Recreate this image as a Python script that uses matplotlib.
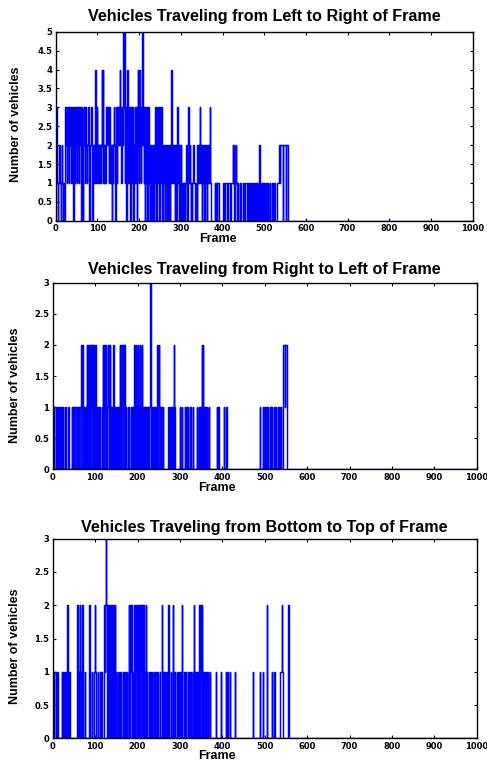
import numpy as np
import matplotlib
matplotlib.use("Agg")
import matplotlib.pyplot as plt

plt.rcParams['font.family'] = ['Liberation Sans', 'DejaVu Sans']

# ---------------- data: (frame where a new count starts, count) ----------------
lr_changes = [
    (0, 3), (2, 2), (3, 1), (5, 0), (6, 1), (9, 2), (10, 1), (12, 0), (13, 1), (15, 2), (16, 1), (18, 0),
    (19, 1), (21, 0), (22, 2), (23, 3), (25, 2), (26, 1), (27, 3), (29, 2), (30, 3), (31, 1), (33, 2),
    (34, 3), (36, 2), (37, 1), (38, 2), (39, 3), (41, 2), (42, 0), (43, 2), (44, 3), (46, 1), (47, 2),
    (48, 3), (50, 2), (51, 1), (52, 3), (53, 2), (55, 3), (56, 1), (57, 2), (58, 3), (60, 2), (61, 0),
    (62, 2), (63, 3), (64, 1), (65, 0), (66, 2), (67, 3), (69, 2), (70, 1), (71, 3), (73, 2), (74, 1),
    (76, 2), (77, 3), (79, 1), (80, 2), (81, 0), (82, 1), (83, 2), (84, 3), (86, 2), (87, 1), (88, 0),
    (90, 2), (91, 1), (92, 2), (94, 1), (95, 4), (96, 2), (97, 1), (98, 3), (99, 2), (101, 1), (102, 2),
    (103, 1), (104, 2), (106, 1), (107, 2), (108, 1), (109, 2), (111, 4), (112, 2), (113, 4), (114, 1),
    (116, 2), (117, 1), (118, 2), (119, 1), (120, 2), (121, 3), (123, 2), (124, 3), (126, 2), (127, 1),
    (128, 2), (129, 3), (130, 2), (131, 1), (132, 2), (134, 0), (135, 1), (136, 2), (137, 1), (138, 2),
    (140, 3), (141, 2), (142, 1), (143, 0), (144, 2), (145, 3), (146, 2), (147, 1), (148, 3), (150, 2),
    (151, 3), (152, 2), (153, 4), (154, 2), (155, 3), (156, 2), (157, 1), (158, 3), (159, 2), (161, 5),
    (163, 3), (164, 5), (165, 2), (166, 1), (167, 3), (168, 1), (169, 0), (170, 3), (171, 2), (172, 4),
    (173, 1), (174, 3), (175, 2), (176, 1), (177, 3), (178, 2), (179, 0), (180, 2), (181, 3), (182, 1),
    (183, 2), (184, 3), (185, 2), (186, 0), (187, 1), (188, 2), (189, 3), (190, 2), (191, 1), (192, 3),
    (193, 2), (194, 0), (195, 2), (196, 3), (197, 4), (198, 2), (199, 1), (200, 4), (201, 3), (202, 2),
    (203, 3), (204, 1), (205, 2), (206, 5), (207, 3), (208, 5), (209, 2), (210, 3), (211, 1), (212, 2),
    (213, 0), (214, 3), (215, 2), (216, 1), (217, 3), (218, 2), (219, 1), (220, 0), (221, 2), (222, 3),
    (223, 1), (224, 2), (225, 0), (226, 1), (227, 2), (228, 1), (229, 0), (230, 2), (231, 1), (232, 0),
    (233, 1), (234, 2), (235, 0), (236, 1), (237, 2), (238, 1), (239, 3), (240, 2), (241, 0), (242, 1),
    (243, 3), (244, 2), (245, 1), (246, 3), (247, 2), (248, 0), (249, 2), (250, 3), (251, 1), (252, 2),
    (253, 3), (254, 1), (255, 2), (256, 0), (257, 1), (258, 2), (259, 1), (261, 0), (262, 1), (263, 2),
    (264, 1), (266, 0), (267, 2), (268, 1), (269, 2), (270, 0), (271, 1), (272, 2), (273, 1), (274, 0),
    (275, 1), (276, 2), (277, 4), (279, 2), (280, 1), (281, 2), (283, 1), (284, 2), (285, 0), (286, 2),
    (287, 1), (288, 2), (289, 0), (290, 1), (291, 2), (292, 3), (293, 2), (294, 1), (295, 2), (296, 0),
    (297, 1), (298, 2), (299, 1), (300, 2), (301, 0), (302, 1), (304, 0), (305, 1), (307, 0), (308, 1),
    (310, 0), (311, 1), (313, 2), (314, 1), (315, 2), (316, 0), (317, 2), (318, 3), (319, 2), (320, 1),
    (321, 2), (322, 1), (324, 0), (325, 1), (327, 0), (328, 1), (330, 2), (331, 1), (333, 0), (336, 1),
    (338, 0), (339, 1), (340, 2), (341, 1), (343, 2), (344, 1), (345, 2), (346, 3), (347, 2), (348, 1),
    (349, 2), (350, 0), (351, 2), (352, 1), (353, 2), (354, 1), (355, 2), (356, 0), (357, 1), (358, 2),
    (359, 1), (360, 2), (362, 1), (363, 0), (364, 1), (366, 2), (367, 1), (369, 3), (370, 1), (372, 0),
    (382, 1), (383, 0), (384, 1), (386, 0), (388, 1), (392, 0), (400, 1), (403, 0), (405, 1), (410, 0),
    (412, 1), (418, 0), (420, 1), (424, 2), (425, 1), (427, 2), (428, 0), (430, 1), (432, 2), (433, 1),
    (434, 0), (436, 1), (437, 0), (443, 1), (445, 0), (448, 1), (452, 0), (455, 1), (458, 0), (460, 1),
    (461, 0), (464, 1), (465, 0), (467, 1), (468, 0), (470, 1), (471, 0), (472, 1), (473, 0), (475, 1),
    (476, 0), (477, 1), (478, 0), (479, 1), (480, 0), (482, 1), (483, 0), (484, 1), (485, 0), (487, 1),
    (488, 2), (489, 1), (490, 0), (491, 1), (493, 0), (494, 1), (496, 0), (497, 1), (498, 0), (500, 1),
    (502, 0), (504, 1), (506, 0), (508, 1), (510, 0), (513, 1), (515, 0), (518, 1), (520, 0), (523, 1),
    (527, 0), (531, 1), (536, 2), (538, 1), (539, 2), (545, 0), (546, 2), (552, 0), (553, 2), (558, 0),
]

rl_changes = [
    (0, 1), (3, 0), (4, 1), (8, 0), (9, 1), (12, 0), (13, 1), (16, 0), (17, 1), (19, 0), (21, 1), (22, 0),
    (24, 1), (25, 0), (30, 1), (31, 0), (37, 1), (38, 0), (45, 1), (46, 0), (48, 1), (50, 0), (51, 1),
    (55, 0), (56, 1), (58, 0), (60, 1), (62, 0), (63, 1), (66, 0), (67, 2), (69, 1), (70, 2), (71, 0),
    (72, 1), (74, 0), (75, 1), (78, 0), (79, 1), (80, 2), (81, 1), (82, 0), (83, 2), (84, 1), (85, 2),
    (86, 0), (87, 1), (88, 2), (89, 1), (90, 0), (91, 2), (92, 1), (93, 2), (94, 0), (95, 1), (96, 2),
    (97, 1), (98, 0), (99, 1), (100, 2), (101, 1), (102, 0), (104, 1), (105, 0), (107, 1), (109, 0),
    (110, 1), (112, 0), (116, 1), (117, 0), (118, 2), (119, 1), (120, 0), (121, 2), (122, 1), (124, 2),
    (125, 0), (126, 1), (128, 0), (129, 1), (130, 2), (131, 1), (132, 2), (133, 0), (134, 1), (135, 2),
    (136, 1), (137, 0), (139, 1), (140, 0), (142, 1), (143, 2), (144, 0), (148, 1), (149, 0), (152, 1),
    (153, 0), (156, 1), (157, 0), (158, 2), (159, 1), (160, 0), (161, 2), (162, 1), (163, 0), (164, 2),
    (165, 1), (166, 2), (167, 0), (168, 1), (169, 2), (171, 0), (172, 1), (173, 0), (178, 1), (179, 0),
    (184, 1), (185, 0), (188, 1), (189, 0), (191, 1), (192, 2), (193, 1), (194, 2), (195, 0), (196, 2),
    (197, 1), (198, 0), (199, 1), (200, 2), (201, 0), (202, 1), (204, 0), (205, 2), (206, 1), (207, 0),
    (209, 1), (210, 2), (211, 0), (212, 1), (213, 0), (216, 1), (217, 0), (218, 1), (220, 0), (221, 1),
    (222, 0), (223, 1), (225, 0), (226, 1), (227, 0), (228, 1), (230, 3), (231, 1), (232, 0), (233, 1),
    (235, 0), (236, 1), (237, 0), (238, 1), (240, 0), (241, 1), (243, 0), (245, 2), (246, 1), (247, 2),
    (248, 0), (249, 1), (250, 2), (251, 1), (252, 0), (254, 1), (255, 0), (257, 1), (258, 0), (260, 1),
    (261, 0), (273, 1), (274, 0), (276, 1), (277, 0), (279, 1), (281, 0), (283, 1), (284, 0), (286, 2),
    (287, 1), (288, 0), (300, 1), (301, 0), (304, 1), (305, 0), (311, 1), (312, 0), (315, 1), (316, 0),
    (319, 1), (320, 0), (324, 1), (325, 0), (330, 1), (331, 0), (340, 1), (341, 0), (345, 1), (346, 0),
    (348, 1), (349, 0), (351, 2), (352, 1), (354, 2), (355, 0), (356, 1), (357, 0), (360, 1), (362, 0),
    (364, 1), (365, 0), (368, 1), (369, 0), (387, 1), (388, 0), (391, 1), (392, 0), (403, 1), (404, 0),
    (409, 1), (410, 0), (489, 1), (490, 0), (495, 1), (496, 0), (498, 1), (500, 0), (503, 1), (505, 0),
    (507, 1), (508, 0), (512, 1), (514, 0), (516, 1), (517, 0), (521, 1), (522, 0), (525, 1), (527, 0),
    (531, 1), (532, 0), (534, 1), (536, 0), (538, 1), (539, 0), (542, 2), (547, 1), (548, 2), (553, 0),
]

bt_changes = [
    (0, 1), (3, 0), (4, 1), (8, 0), (9, 1), (13, 0), (21, 1), (22, 0), (25, 1), (27, 0), (29, 1), (31, 0),
    (33, 1), (34, 2), (35, 1), (37, 0), (38, 1), (41, 0), (58, 2), (59, 0), (61, 1), (62, 0), (64, 2),
    (65, 1), (66, 0), (70, 2), (71, 0), (76, 1), (77, 0), (85, 1), (86, 2), (87, 1), (88, 2), (89, 0),
    (92, 1), (93, 0), (97, 1), (99, 2), (100, 1), (101, 0), (106, 1), (107, 0), (112, 1), (113, 0),
    (115, 1), (116, 0), (121, 1), (122, 2), (123, 1), (124, 2), (125, 3), (126, 2), (127, 1), (128, 2),
    (129, 0), (130, 2), (131, 1), (132, 2), (133, 0), (134, 2), (135, 1), (136, 0), (137, 2), (138, 1),
    (139, 0), (140, 2), (141, 1), (142, 2), (143, 0), (144, 2), (145, 1), (146, 2), (147, 0), (149, 1),
    (150, 0), (153, 1), (154, 0), (157, 1), (158, 0), (160, 1), (162, 0), (166, 1), (167, 0), (170, 1),
    (172, 0), (175, 1), (176, 0), (179, 1), (180, 2), (181, 0), (182, 1), (183, 2), (184, 1), (185, 2),
    (186, 0), (187, 2), (188, 1), (189, 0), (191, 1), (192, 2), (193, 0), (195, 1), (196, 2), (197, 1),
    (198, 0), (199, 2), (200, 1), (201, 2), (202, 0), (203, 1), (204, 2), (205, 1), (206, 0), (207, 2),
    (208, 1), (209, 2), (210, 0), (211, 1), (212, 2), (213, 0), (214, 2), (215, 1), (216, 0), (218, 1),
    (219, 2), (220, 0), (221, 1), (223, 0), (226, 1), (227, 0), (230, 1), (231, 0), (234, 1), (235, 0),
    (238, 1), (239, 0), (242, 1), (243, 0), (247, 1), (248, 0), (252, 1), (253, 0), (257, 2), (258, 1),
    (259, 0), (262, 1), (263, 0), (266, 1), (267, 0), (270, 1), (271, 0), (273, 2), (274, 1), (275, 0),
    (279, 1), (280, 0), (283, 2), (284, 0), (287, 1), (288, 0), (292, 1), (293, 0), (296, 1), (297, 0),
    (300, 1), (301, 0), (303, 1), (304, 2), (305, 0), (309, 1), (310, 0), (312, 1), (314, 0), (318, 1),
    (319, 0), (322, 1), (323, 0), (326, 1), (327, 0), (330, 1), (332, 0), (333, 2), (334, 1), (335, 0),
    (337, 1), (338, 0), (341, 1), (342, 0), (344, 2), (345, 1), (346, 2), (347, 0), (348, 1), (349, 2),
    (350, 1), (351, 2), (352, 0), (353, 1), (355, 0), (358, 1), (359, 0), (362, 1), (363, 0), (366, 1),
    (367, 0), (370, 1), (371, 0), (385, 1), (386, 0), (396, 1), (397, 0), (408, 1), (409, 0), (412, 1),
    (414, 0), (417, 1), (418, 0), (430, 1), (431, 0), (472, 1), (473, 0), (489, 1), (490, 0), (495, 1),
    (497, 0), (505, 2), (506, 0), (517, 1), (518, 0), (521, 1), (524, 0), (537, 1), (540, 2), (541, 1),
    (543, 0), (556, 2), (557, 0),
]

panel_titles = ["Vehicles Traveling from Left to Right of Frame",
                "Vehicles Traveling from Right to Left of Frame",
                "Vehicles Traveling from Bottom to Top of Frame"]
x_label = "Frame"
y_label = "Number of vehicles"
panel_ymax = [5, 3, 3]
panel_yticks = [[0, 0.5, 1, 1.5, 2, 2.5, 3, 3.5, 4, 4.5, 5],
                [0, 0.5, 1, 1.5, 2, 2.5, 3],
                [0, 0.5, 1, 1.5, 2, 2.5, 3]]
x_ticks = [0, 100, 200, 300, 400, 500, 600, 700, 800, 900, 1000]
n_frames = 1000

# ---------------- figure ----------------
W, H = 487, 761
fig = plt.figure(figsize=(W / 100, H / 100), dpi=100)

# axes boxes in pixels: left, top, right, bottom
boxes = [(55.7, 31.7, 472.7, 220.7),
         (52.7, 282.7, 476.7, 469.3),
         (52.7, 538.7, 476.7, 738.3)]
title_baselines = [20.7, 274.3, 531.7]
xlabel_pos = [(217.5, 242.0), (216.7, 490.7), (216.7, 759.0)]
ylabel_pos = [(16.0, 124.0), (15.3, 385.5), (15.3, 646.0)]

series = [lr_changes, rl_changes, bt_changes]


def fmt(v):
    return "%g" % v


tick_font = dict(family='DejaVu Sans', weight='bold', size=6.0)

for i, (box, changes) in enumerate(zip(boxes, series)):
    l, t, r, b = box
    ax = fig.add_axes([l / W, 1 - b / H, (r - l) / W, (b - t) / H])
    xs = [c[0] for c in changes] + [n_frames]
    ys = [c[1] for c in changes]
    ys = ys + [ys[-1]]
    ax.step(xs, ys, where='post', color=(0, 0, 1), lw=1.05)
    ax.set_xlim(0, n_frames)
    ax.set_ylim(0, panel_ymax[i])
    ax.set_xticks(x_ticks)
    ax.set_xticklabels([fmt(v) for v in x_ticks], fontdict=tick_font)
    ax.set_yticks(panel_yticks[i])
    ax.set_yticklabels([fmt(v) for v in panel_yticks[i]], fontdict=tick_font)
    ax.tick_params(direction='in', length=2.5, width=0.8, top=True, right=True,
                   pad=2.5, colors='black')
    for s in ax.spines.values():
        s.set_linewidth(1.0)
        s.set_color('black')

    cx = (l + r) / 2
    fig.text(cx / W, 1 - title_baselines[i] / H, panel_titles[i], fontsize=11.6,
             fontweight='bold', ha='center', va='baseline')
    fx, fy = xlabel_pos[i]
    fig.text(fx / W, 1 - fy / H, x_label, fontsize=9, fontweight='bold',
             ha='center', va='baseline')
    yx, yy = ylabel_pos[i]
    fig.text(yx / W, 1 - yy / H, y_label, fontsize=9, fontweight='bold',
             rotation=90, ha='center', va='center')

fig.savefig("out.png", dpi=100)
